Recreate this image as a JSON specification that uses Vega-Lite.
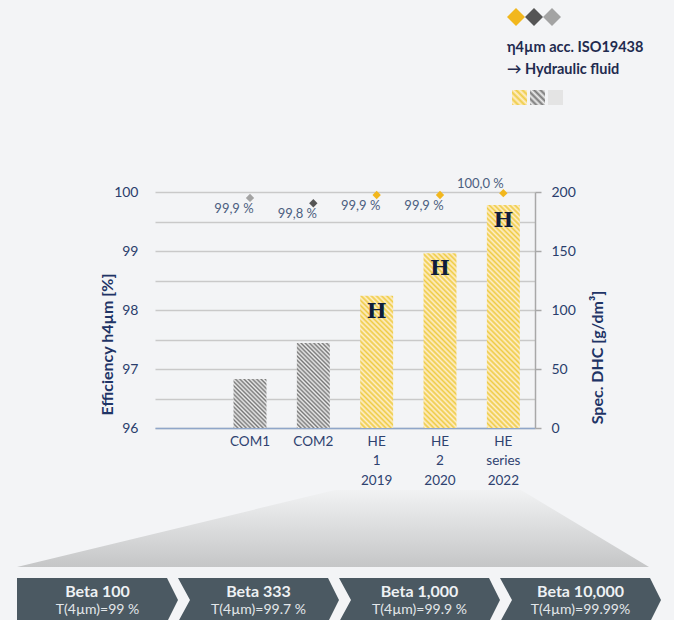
{
"$schema": "https://vega.github.io/schema/vega-lite/v6.json",
"background": "#f3f4f6",
"padding": {"left": 17, "top": 8, "right": 13, "bottom": 0},
"config": {"font": "Lato", "view": {"stroke": null}},
"params": [
{"name": "gS", "value": [{"offset":0,"color":"#777"},{"offset":0.01,"color":"#eee"},{"offset":0.02,"color":"#777"},{"offset":0.03,"color":"#eee"},{"offset":0.04,"color":"#777"},{"offset":0.05,"color":"#eee"},{"offset":0.06,"color":"#777"},{"offset":0.07,"color":"#eee"},{"offset":0.08,"color":"#777"},{"offset":0.09,"color":"#eee"},{"offset":0.1,"color":"#777"},{"offset":0.11,"color":"#eee"},{"offset":0.12,"color":"#777"},{"offset":0.13,"color":"#eee"},{"offset":0.14,"color":"#777"},{"offset":0.15,"color":"#eee"},{"offset":0.16,"color":"#777"},{"offset":0.17,"color":"#eee"},{"offset":0.18,"color":"#777"},{"offset":0.19,"color":"#eee"},{"offset":0.2,"color":"#777"},{"offset":0.21,"color":"#eee"},{"offset":0.22,"color":"#777"},{"offset":0.23,"color":"#eee"},{"offset":0.24,"color":"#777"},{"offset":0.25,"color":"#eee"},{"offset":0.26,"color":"#777"},{"offset":0.27,"color":"#eee"},{"offset":0.28,"color":"#777"},{"offset":0.29,"color":"#eee"},{"offset":0.3,"color":"#777"},{"offset":0.31,"color":"#eee"},{"offset":0.32,"color":"#777"},{"offset":0.33,"color":"#eee"},{"offset":0.34,"color":"#777"},{"offset":0.35,"color":"#eee"},{"offset":0.36,"color":"#777"},{"offset":0.37,"color":"#eee"},{"offset":0.38,"color":"#777"},{"offset":0.39,"color":"#eee"},{"offset":0.4,"color":"#777"},{"offset":0.41,"color":"#eee"},{"offset":0.42,"color":"#777"},{"offset":0.43,"color":"#eee"},{"offset":0.44,"color":"#777"},{"offset":0.45,"color":"#eee"},{"offset":0.46,"color":"#777"},{"offset":0.47,"color":"#eee"},{"offset":0.48,"color":"#777"},{"offset":0.49,"color":"#eee"},{"offset":0.5,"color":"#777"},{"offset":0.51,"color":"#eee"},{"offset":0.52,"color":"#777"},{"offset":0.53,"color":"#eee"},{"offset":0.54,"color":"#777"},{"offset":0.55,"color":"#eee"},{"offset":0.56,"color":"#777"},{"offset":0.57,"color":"#eee"},{"offset":0.58,"color":"#777"},{"offset":0.59,"color":"#eee"},{"offset":0.6,"color":"#777"},{"offset":0.61,"color":"#eee"},{"offset":0.62,"color":"#777"},{"offset":0.63,"color":"#eee"},{"offset":0.64,"color":"#777"},{"offset":0.65,"color":"#eee"},{"offset":0.66,"color":"#777"},{"offset":0.67,"color":"#eee"},{"offset":0.68,"color":"#777"},{"offset":0.69,"color":"#eee"},{"offset":0.7,"color":"#777"},{"offset":0.71,"color":"#eee"},{"offset":0.72,"color":"#777"},{"offset":0.73,"color":"#eee"},{"offset":0.74,"color":"#777"},{"offset":0.75,"color":"#eee"},{"offset":0.76,"color":"#777"},{"offset":0.77,"color":"#eee"},{"offset":0.78,"color":"#777"},{"offset":0.79,"color":"#eee"},{"offset":0.8,"color":"#777"},{"offset":0.81,"color":"#eee"},{"offset":0.82,"color":"#777"},{"offset":0.83,"color":"#eee"},{"offset":0.84,"color":"#777"},{"offset":0.85,"color":"#eee"},{"offset":0.86,"color":"#777"},{"offset":0.87,"color":"#eee"},{"offset":0.88,"color":"#777"},{"offset":0.89,"color":"#eee"},{"offset":0.9,"color":"#777"},{"offset":0.91,"color":"#eee"},{"offset":0.92,"color":"#777"},{"offset":0.93,"color":"#eee"},{"offset":0.94,"color":"#777"},{"offset":0.95,"color":"#eee"},{"offset":0.96,"color":"#777"},{"offset":0.97,"color":"#eee"},{"offset":0.98,"color":"#777"},{"offset":0.99,"color":"#eee"},{"offset":1,"color":"#777"}]},
{"name": "yS", "value": [{"offset":0,"color":"#ec4"},{"offset":0.01,"color":"#fec"},{"offset":0.02,"color":"#ec4"},{"offset":0.03,"color":"#fec"},{"offset":0.04,"color":"#ec4"},{"offset":0.05,"color":"#fec"},{"offset":0.06,"color":"#ec4"},{"offset":0.07,"color":"#fec"},{"offset":0.08,"color":"#ec4"},{"offset":0.09,"color":"#fec"},{"offset":0.1,"color":"#ec4"},{"offset":0.11,"color":"#fec"},{"offset":0.12,"color":"#ec4"},{"offset":0.13,"color":"#fec"},{"offset":0.14,"color":"#ec4"},{"offset":0.15,"color":"#fec"},{"offset":0.16,"color":"#ec4"},{"offset":0.17,"color":"#fec"},{"offset":0.18,"color":"#ec4"},{"offset":0.19,"color":"#fec"},{"offset":0.2,"color":"#ec4"},{"offset":0.21,"color":"#fec"},{"offset":0.22,"color":"#ec4"},{"offset":0.23,"color":"#fec"},{"offset":0.24,"color":"#ec4"},{"offset":0.25,"color":"#fec"},{"offset":0.26,"color":"#ec4"},{"offset":0.27,"color":"#fec"},{"offset":0.28,"color":"#ec4"},{"offset":0.29,"color":"#fec"},{"offset":0.3,"color":"#ec4"},{"offset":0.31,"color":"#fec"},{"offset":0.32,"color":"#ec4"},{"offset":0.33,"color":"#fec"},{"offset":0.34,"color":"#ec4"},{"offset":0.35,"color":"#fec"},{"offset":0.36,"color":"#ec4"},{"offset":0.37,"color":"#fec"},{"offset":0.38,"color":"#ec4"},{"offset":0.39,"color":"#fec"},{"offset":0.4,"color":"#ec4"},{"offset":0.41,"color":"#fec"},{"offset":0.42,"color":"#ec4"},{"offset":0.43,"color":"#fec"},{"offset":0.44,"color":"#ec4"},{"offset":0.45,"color":"#fec"},{"offset":0.46,"color":"#ec4"},{"offset":0.47,"color":"#fec"},{"offset":0.48,"color":"#ec4"},{"offset":0.49,"color":"#fec"},{"offset":0.5,"color":"#ec4"},{"offset":0.51,"color":"#fec"},{"offset":0.52,"color":"#ec4"},{"offset":0.53,"color":"#fec"},{"offset":0.54,"color":"#ec4"},{"offset":0.55,"color":"#fec"},{"offset":0.56,"color":"#ec4"},{"offset":0.57,"color":"#fec"},{"offset":0.58,"color":"#ec4"},{"offset":0.59,"color":"#fec"},{"offset":0.6,"color":"#ec4"},{"offset":0.61,"color":"#fec"},{"offset":0.62,"color":"#ec4"},{"offset":0.63,"color":"#fec"},{"offset":0.64,"color":"#ec4"},{"offset":0.65,"color":"#fec"},{"offset":0.66,"color":"#ec4"},{"offset":0.67,"color":"#fec"},{"offset":0.68,"color":"#ec4"},{"offset":0.69,"color":"#fec"},{"offset":0.7,"color":"#ec4"},{"offset":0.71,"color":"#fec"},{"offset":0.72,"color":"#ec4"},{"offset":0.73,"color":"#fec"},{"offset":0.74,"color":"#ec4"},{"offset":0.75,"color":"#fec"},{"offset":0.76,"color":"#ec4"},{"offset":0.77,"color":"#fec"},{"offset":0.78,"color":"#ec4"},{"offset":0.79,"color":"#fec"},{"offset":0.8,"color":"#ec4"},{"offset":0.81,"color":"#fec"},{"offset":0.82,"color":"#ec4"},{"offset":0.83,"color":"#fec"},{"offset":0.84,"color":"#ec4"},{"offset":0.85,"color":"#fec"},{"offset":0.86,"color":"#ec4"},{"offset":0.87,"color":"#fec"},{"offset":0.88,"color":"#ec4"},{"offset":0.89,"color":"#fec"},{"offset":0.9,"color":"#ec4"},{"offset":0.91,"color":"#fec"},{"offset":0.92,"color":"#ec4"},{"offset":0.93,"color":"#fec"},{"offset":0.94,"color":"#ec4"},{"offset":0.95,"color":"#fec"},{"offset":0.96,"color":"#ec4"},{"offset":0.97,"color":"#fec"},{"offset":0.98,"color":"#ec4"},{"offset":0.99,"color":"#fec"},{"offset":1,"color":"#ec4"}]}
],
"datasets": {
"bars": [
{"cat": "COM1", "grp": "COM1", "dhc": 41.5, "eff": 99.9, "lab": "99,9 %"},
{"cat": "COM2", "grp": "COM2", "dhc": 72, "eff": 99.81, "lab": "99,8 %"},
{"cat": "HE|1|2019", "grp": "HE", "dhc": 112, "eff": 99.95, "lab": "99,9 %"},
{"cat": "HE|2|2020", "grp": "HE", "dhc": 148, "eff": 99.95, "lab": "99,9 %"},
{"cat": "HE|series|2022", "grp": "HE", "dhc": 189, "eff": 99.98, "lab": "100,0 %"}
],
"chev": [
{"i": 1, "beta": "Beta 100", "t": "T(4µm)=99 %"},
{"i": 2, "beta": "Beta 333", "t": "T(4µm)=99.7 %"},
{"i": 3, "beta": "Beta 1,000", "t": "T(4µm)=99.9 %"},
{"i": 4, "beta": "Beta 10,000", "t": "T(4µm)=99.99%"}
]
},
"spacing": 150,
"bounds": "flush",
"vconcat": [
{
"width": 380, "height": 236,
"data": {"name": "bars"},
"encoding": {"x": {"field": "cat", "type": "nominal", "sort": null,
  "scale": {"domain": ["gap", "COM1", "COM2", "HE|1|2019", "HE|2|2020", "HE|series|2022"], "paddingInner": 0.48, "paddingOuter": 0.24},
  "axis": {"title": null, "labelExpr": "datum.value == 'gap' ? '' : split(datum.value, '|')", "labelAngle": 0, "ticks": false, "tickSize": 0, "labelPadding": 6, "labelFontSize": 13.5, "labelLineHeight": 19.5, "labelColor": "#2e4270", "domainColor": "#8fa6c9", "domainWidth": 1.5, "grid": false}}},
"layer": [
 {"encoding": {"y": {"field": "dhc", "type": "quantitative", "scale": {"domain": [0, 200], "nice": false},
   "axis": {"orient": "right", "values": [0, 50, 100, 150, 200], "grid": false, "title": "Spec. DHC [g/dm³]", "titleAngle": 270, "titleX": 62, "titleY": 165, "titleAlign": "center", "titleBaseline": "middle", "titleFontSize": 16, "titleFontWeight": "bold", "titleColor": "#1f3466", "labelFontSize": 14, "labelColor": "#2a3d6c", "labelPadding": 10, "tickSize": 6, "tickColor": "#a8a8a8", "tickWidth": 1.5, "domainColor": "#a8a8a8", "domainWidth": 1.5}}},
  "layer": [
   {"transform": [{"filter": "datum.cat == 'COM1'"}], "mark": {"type": "bar", "fill": {"expr": "{gradient:'linear',x1:0,y1:1,x2:2.006,y2:-1.9831,stops:gS}"}}},
   {"transform": [{"filter": "datum.cat == 'COM2'"}], "mark": {"type": "bar", "fill": {"expr": "{gradient:'linear',x1:0,y1:1,x2:0.8414,y2:-1.1707,stops:gS}"}}},
   {"transform": [{"filter": "datum.cat == 'HE|1|2019'"}], "mark": {"type": "bar", "fill": {"expr": "{gradient:'linear',x1:0,y1:1,x2:0.4544,y2:-0.8235,stops:yS}"}}},
   {"transform": [{"filter": "datum.cat == 'HE|2|2020'"}], "mark": {"type": "bar", "fill": {"expr": "{gradient:'linear',x1:0,y1:1,x2:0.2669,y2:-0.4154,stops:yS}"}}},
   {"transform": [{"filter": "datum.cat == 'HE|series|2022'"}], "mark": {"type": "bar", "fill": {"expr": "{gradient:'linear',x1:0,y1:1,x2:0.1658,y2:-0.1232,stops:yS}"}}},
   {"transform": [{"filter": "datum.grp == 'HE'"}], "mark": {"type": "text", "text": "H", "font": "DejaVu Serif", "fontWeight": "bold", "fontSize": 21, "color": "#0f1d3b", "baseline": "middle", "dy": 16}}
  ]},
 {"encoding": {"y": {"field": "eff", "type": "quantitative", "scale": {"domain": [96, 100], "nice": false, "zero": false},
   "axis": {"orient": "left", "values": [96, 96.5, 97, 97.5, 98, 98.5, 99, 99.5, 100], "labelExpr": "datum.value % 1 == 0 ? format(datum.value, 'd') : ''", "grid": true, "gridColor": "#c9c9c9", "gridWidth": 1.5, "ticks": false, "tickSize": 0, "domain": false, "labelPadding": 17, "labelFontSize": 14, "labelColor": "#2a3d6c", "title": "Efficiency h4µm [%]", "titleAngle": 270, "titleX": -48, "titleY": 152, "titleAlign": "center", "titleBaseline": "middle", "titleFontSize": 16, "titleFontWeight": "bold", "titleColor": "#1f3466"}}},
  "layer": [
   {"mark": {"type": "point", "shape": "diamond", "filled": true, "size": 70, "opacity": 1, "strokeWidth": 0},
    "encoding": {"color": {"field": "grp", "type": "nominal", "scale": {"domain": ["HE", "COM2", "COM1"], "range": ["#f2b71d", "#555555", "#a3a3a3"]},
     "legend": {"orient": "none", "legendX": 352, "legendY": -184, "direction": "horizontal", "symbolType": "diamond", "symbolSize": 324, "symbolStrokeWidth": 0, "symbolOffset": 0, "labelExpr": "''", "labelFontSize": 1, "labelOffset": 0, "columnPadding": 0, "title": ["η4µm acc. ISO19438", "→ Hydraulic fluid"], "titleOrient": "bottom", "titleAnchor": "start", "titleFontSize": 14.5, "titleFontWeight": "bold", "titleColor": "#1f2b4f", "titleLineHeight": 22, "titlePadding": 15, "titleLimit": 300}}}},
   {"transform": [{"filter": "datum.cat != 'HE|series|2022'"}], "mark": {"type": "text", "dx": -16, "dy": 11, "fontSize": 13, "color": "#4c5e80", "baseline": "middle"}, "encoding": {"text": {"field": "lab"}}},
   {"transform": [{"filter": "datum.cat == 'HE|series|2022'"}], "mark": {"type": "text", "dx": -23, "dy": -9, "fontSize": 13, "color": "#4c5e80", "baseline": "middle"}, "encoding": {"text": {"field": "lab"}}}
  ]},
 {"transform": [{"filter": "false"}], "mark": {"type": "square", "opacity": 1},
  "encoding": {"fill": {"field": "grp", "type": "nominal", "scale": {"domain": ["yellow hatch", "dark hatch", "light hatch"], "range": [{"expr": "{gradient:'linear',x1:0,y1:1,x2:10.6,y2:-9.6,stops:yS}"}, {"expr": "{gradient:'linear',x1:0,y1:1,x2:10.6,y2:-9.6,stops:gS}"}, "#e4e4e4"]},
   "legend": {"orient": "none", "legendX": 357, "legendY": -102, "direction": "horizontal", "symbolType": "square", "symbolSize": 225, "labelExpr": "''", "labelFontSize": 1, "labelOffset": 0, "columnPadding": 3, "title": null, "symbolStrokeWidth": 0}}}}
],
"resolve": {"scale": {"y": "independent"}}
},
{
"width": 380, "height": 44,
"layer": [
 {"data": {"values": [{}]}, "mark": {"type": "point", "shape": "M-3.28,-0.33L3.04,-0.33L1.76,-1.1L-0.1,-1.1Z", "size": 40000, "filled": true, "opacity": 1, "strokeWidth": 0, "fill": {"gradient": "linear", "x1": 0, "y1": 0, "x2": 0, "y2": 1, "stops": [{"offset": 0, "color": "#f1f2f3"}, {"offset": 1, "color": "#c5c6c7"}]}}, "encoding": {}},
 {"data": {"name": "chev"},
  "encoding": {"x": {"field": "beta", "type": "nominal", "sort": null, "axis": null, "scale": {"domain": ["Beta 100", "Beta 333", "Beta 1,000", "Beta 10,000"], "range": [-138, 506], "paddingInner": 0, "paddingOuter": 0}}},
  "layer": [
   {"transform": [{"filter": "datum.i == 1"}], "mark": {"type": "point", "shape": "M-1,-0.2733L0.8634,-0.2733L1,0L0.8634,0.2733L-1,0.2733Z", "size": 25921, "filled": true, "opacity": 1, "strokeWidth": 0, "color": "#4b5962"}},
   {"transform": [{"filter": "datum.i > 1"}], "mark": {"type": "point", "shape": "M-1,-0.2733L0.8634,-0.2733L1,0L0.8634,0.2733L-1,0.2733L-0.8509,0Z", "size": 25921, "filled": true, "opacity": 1, "strokeWidth": 0, "color": "#4b5962"}},
   {"mark": {"type": "text", "dy": -8, "fontSize": 16, "fontWeight": "bold", "color": "#eef1f4", "baseline": "middle"}, "encoding": {"text": {"field": "beta"}}},
   {"mark": {"type": "text", "dy": 10, "fontSize": 14, "color": "#e3e7ea", "baseline": "middle"}, "encoding": {"text": {"field": "t"}}}
  ]}
]
}
]
}
